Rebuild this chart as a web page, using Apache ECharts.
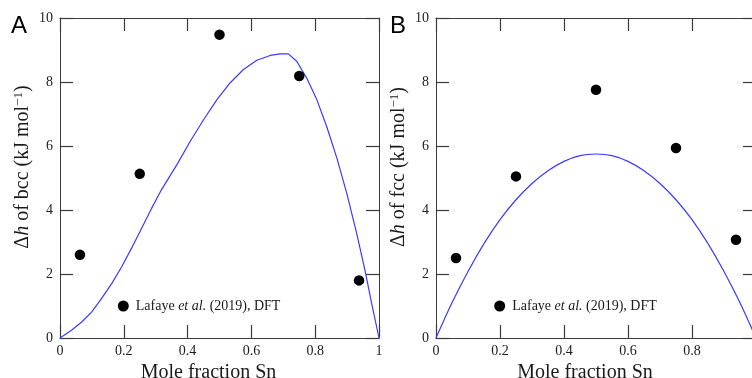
<!DOCTYPE html>
<html>
<head>
<meta charset="utf-8">
<script src="https://cdn.jsdelivr.net/npm/echarts@6/dist/echarts.min.js"></script>
<style>
html,body{margin:0;padding:0;background:#fff;}
#chart{width:752px;height:378px;}
</style>
</head>
<body>
<div id="chart"></div>
<script>
// ---- data ----
const dftX = [0.0625, 0.25, 0.5, 0.75, 0.9375];
const bccDftY = [2.6, 5.13, 9.48, 8.19, 1.80];
const fccDftY = [2.5, 5.05, 7.76, 5.94, 3.07];

const bccCalcX = [0, 0.036, 0.068, 0.099, 0.130, 0.162, 0.193, 0.224, 0.256, 0.287, 0.318, 0.366, 0.408, 0.45, 0.492, 0.533, 0.575, 0.617, 0.659, 0.69, 0.716, 0.742, 0.773, 0.805, 0.836, 0.868, 0.899, 0.930, 0.956, 0.977, 1.0];
const bccCalcY = [0, 0.24, 0.50, 0.81, 1.23, 1.70, 2.22, 2.80, 3.43, 4.05, 4.63, 5.41, 6.14, 6.82, 7.45, 7.97, 8.39, 8.68, 8.83, 8.88, 8.88, 8.65, 8.13, 7.45, 6.61, 5.62, 4.52, 3.27, 2.12, 1.08, 0];

const fccCalcX = [0, 0.05, 0.1, 0.15, 0.2, 0.25, 0.3, 0.35, 0.4, 0.45, 0.5, 0.55, 0.6, 0.65, 0.7, 0.75, 0.8, 0.85, 0.9, 0.95, 1.0];
const fccCalcY = [0, 1.10, 2.08, 2.95, 3.70, 4.32, 4.83, 5.23, 5.52, 5.70, 5.75, 5.70, 5.52, 5.23, 4.83, 4.32, 3.70, 2.95, 2.08, 1.10, 0];

const xTickInterval = 0.2;
const yTickInterval = 2;
const dftName = 'Lafaye et al. (2019), DFT';
const panelLabels = ['A', 'B'];
const yTitles = ['bcc', 'fcc'];
const xTitle = 'Mole fraction Sn';

// ---- styles ----
const SERIF = '"Liberation Serif", "Times New Roman", serif';
const axisColor = '#3a3a3a';
const tickColor = '#3a3a3a';
const textColor = '#1a1a1a';
const curveColor = '#3a3aff';

function zip(a, b) { return a.map((v, i) => [v, b[i]]); }

const grids = [
  { left: 60, top: 18, width: 319, height: 320, outerBoundsMode: 'none' },
  { left: 436, top: 18, width: 320, height: 320, outerBoundsMode: 'none' }
];

const xAxes = [], yAxes = [];
grids.forEach((g, gi) => {
  ['bottom', 'top'].forEach(pos => {
    const main = pos === 'bottom';
    xAxes.push({
      type: 'value', gridIndex: gi, position: pos, min: 0, max: 1, interval: xTickInterval,
      axisLine: { show: true, onZero: false, lineStyle: { color: axisColor, width: 1 } },
      axisTick: { show: true, inside: true, length: 13, lineStyle: { color: tickColor, width: 1.2 } },
      axisLabel: { show: main, margin: 6, fontFamily: SERIF, fontSize: 14, color: textColor },
      splitLine: { show: false },
      name: main ? xTitle : '',
      nameLocation: 'middle', nameGap: 21,
      nameTextStyle: { fontFamily: SERIF, fontSize: 20, color: textColor, padding: [0, 22, 0, 0] }
    });
  });
  ['left', 'right'].forEach(pos => {
    const main = pos === 'left';
    yAxes.push({
      type: 'value', gridIndex: gi, position: pos, min: 0, max: 10, interval: yTickInterval,
      axisLine: { show: true, onZero: false, lineStyle: { color: axisColor, width: 1 } },
      axisTick: { show: true, inside: true, length: 13, lineStyle: { color: tickColor, width: 1.2 } },
      axisLabel: { show: main, margin: 7, fontFamily: SERIF, fontSize: 14, color: textColor },
      splitLine: { show: false },
      name: main ? '{r|Δ}{i|h}{r| of ' + yTitles[gi] + ' (kJ mol}{s|−1}{r|)}' : '',
      nameLocation: 'middle', nameGap: 26, nameRotate: 90,
      nameTextStyle: {
        fontFamily: SERIF, fontSize: 20, color: textColor, padding: [0, 0, 0, 22],
        rich: {
          r: { fontFamily: SERIF, fontSize: 20, color: textColor, lineHeight: 22 },
          i: { fontFamily: SERIF, fontSize: 20, fontStyle: 'italic', color: textColor, lineHeight: 22 },
          s: { fontFamily: SERIF, fontSize: 13, color: textColor, verticalAlign: 'top', lineHeight: 22, padding: [0, 0, 8, 0] }
        }
      }
    });
  });
});

const series = [];
const curves = [[bccCalcX, bccCalcY], [fccCalcX, fccCalcY]];
const dfts = [bccDftY, fccDftY];
[0, 1].forEach(gi => {
  series.push({
    type: 'line', name: 'calc' + gi, xAxisIndex: gi * 2, yAxisIndex: gi * 2,
    data: zip(curves[gi][0], curves[gi][1]),
    showSymbol: false, symbol: 'none', smooth: gi === 1 ? 0.3 : false,
    lineStyle: { color: curveColor, width: 1.2 }, z: 2, silent: true
  });
  series.push({
    type: 'scatter', name: dftName, xAxisIndex: gi * 2, yAxisIndex: gi * 2,
    data: zip(dftX, dfts[gi]),
    symbol: 'circle', symbolSize: 10.5,
    itemStyle: { color: '#000', opacity: 1 }, z: 3, silent: true
  });
});

const legendBase = {
  data: [dftName], icon: 'circle', itemWidth: 11, itemHeight: 11, selectedMode: false,
  orient: 'horizontal', top: 299, padding: 0,
  itemStyle: { color: '#000', opacity: 1 },
  formatter: () => 'Lafaye {i|et al.} (2019), DFT',
  textStyle: {
    fontFamily: SERIF, fontSize: 14, color: textColor, padding: [0, 0, 0, 2],
    rich: { i: { fontFamily: SERIF, fontSize: 14, fontStyle: 'italic', color: textColor } }
  }
};

const option = {
  animation: false,
  backgroundColor: '#fff',
  grid: grids,
  xAxis: xAxes,
  yAxis: yAxes,
  legend: [
    Object.assign({}, legendBase, { left: 117.8 }),
    Object.assign({}, legendBase, { left: 494.2 })
  ],
  graphic: [
    { type: 'text', left: 11, top: 14, style: { text: panelLabels[0], font: '24px "Liberation Sans", Arial, sans-serif', fill: '#000' } },
    { type: 'text', left: 390, top: 14, style: { text: panelLabels[1], font: '24px "Liberation Sans", Arial, sans-serif', fill: '#000' } }
  ],
  series: series
};

const chart = echarts.init(document.getElementById('chart'), null, { renderer: 'canvas' });
chart.setOption(option);
</script>
</body>
</html>
